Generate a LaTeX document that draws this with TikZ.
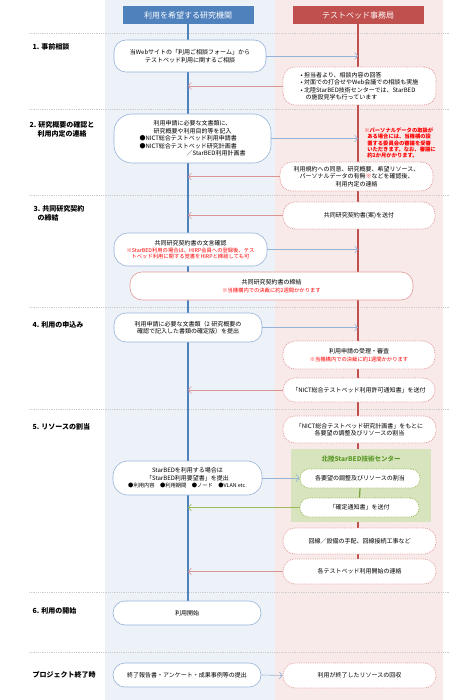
\documentclass[tikz,border=0pt]{standalone}
\usepackage{fontspec}
\setmainfont{Noto Sans CJK JP}
\usetikzlibrary{arrows.meta,backgrounds}
\definecolor{hdrblue}{HTML}{4F81BD}
\definecolor{hdrred}{HTML}{C0504D}
\definecolor{colblue}{HTML}{EDF2F9}
\definecolor{colpink}{HTML}{F9EAEA}
\definecolor{boxblue}{HTML}{95B3D7}
\definecolor{dotred}{HTML}{E39C9A}
\definecolor{arrred}{HTML}{D99694}
\definecolor{dotgreen}{HTML}{9BBB59}
\definecolor{linegreen}{HTML}{77A03C}
\definecolor{fillgreen}{HTML}{D7E4BD}
\definecolor{titlegreen}{HTML}{5E9B2C}
\definecolor{notered}{HTML}{FF0000}
\newcommand{\bodyfont}{\fontsize{6}{7.5}\selectfont}
\newcommand{\notefont}{\fontsize{5.3}{6.2}\selectfont}
\begin{document}
\begin{tikzpicture}[x=1pt,y=-1pt,>={Straight Barb[length=3pt,width=7pt]},
    hdr/.style={minimum width=131pt,minimum height=18pt,inner sep=0pt,text=white,font=\fontsize{8}{9}\selectfont},
    base/.style={fill=white,align=center,inner sep=1pt,font=\bodyfont},
    boxsize/.style 2 args={minimum width=#1pt,minimum height=#2pt},
    lbox/.style={base,draw=boxblue,line width=0.6pt,rounded corners=12pt},
    rbox/.style={base,draw=dotred,densely dotted,line width=0.8pt,rounded corners=12pt},
    gbox/.style={base,draw=dotgreen,densely dotted,line width=0.8pt,rounded corners=9pt},
    phase/.style={anchor=west,align=left,font=\fontsize{7}{9}\selectfont\bfseries},
    redtext/.style={text=notered,align=left,font=\notefont},
    barrow/.style={->,draw=boxblue,line width=0.6pt},
    rarrow/.style={->,draw=arrred,line width=0.6pt},
    garrow/.style={->,draw=dotgreen,line width=0.6pt},
    sepline/.style={draw=gray!40,densely dotted,line width=0.8pt}]
    \useasboundingbox (0,0) rectangle (450,700);
    \coordinate (bl) at (188,0);
    \coordinate (rl) at (358,0);
    % headers
    \node[hdr,fill=hdrblue] (hdrL) at (188,15) {利用を希望する研究機関};
    \node[hdr,fill=hdrred] (hdrR) at (358,15) {テストベッド事務局};
    % phases
    \node[phase] (p1) at (29,47) {1. 事前相談};
    \node[phase] (p2) at (26,129) {2. 研究概要の確認と\\\hspace*{8pt}利用内定の連絡};
    \node[phase] (p3) at (30,213.5) {3. 共同研究契約\\\hspace*{4pt}の締結};
    \node[phase] (p4) at (29,325) {4. 利用の申込み};
    \node[phase] (p5) at (29,427) {5. リソースの割当};
    \node[phase] (p6) at (29,611) {6. 利用の開始};
    \node[phase] (p7) at (29,675) {プロジェクト終了時};
    % 1
    \node[lbox,boxsize={152}{32}] (c1) at (190,56) {当Webサイトの「利用ご相談フォーム」から\\テストベッド利用に関するご相談};
    \node[rbox,boxsize={153}{38},align=left] (r1) at (359.5,86) {• 担当者より、相談内容の回答\\• 対面での打合せやWeb会議での相談も実施\\• 北陸StarBED技術センターでは、StarBED\\\hspace*{5pt}の施設見学も行っています};
    % 2
    \node[lbox,boxsize={157}{49},rounded corners=18pt] (c2) at (192.5,138.5) {利用申請に必要な文書類に、\\研究概要や利用目的等を記入\\\makebox[106pt][l]{●NICT総合テストベッド利用申請書}\\\makebox[106pt][l]{●NICT総合テストベッド研究計画書}\\\makebox[106pt][r]{／StarBED利用計画書}};
    \node[redtext,font=\notefont\bfseries] (n2) at (400,143) {※パーソナルデータの取扱が\\\hspace*{3pt}ある場合には、当機構の設\\\hspace*{3pt}置する委員会の審議を受審\\\hspace*{3pt}いただきます。なお、審議に\\\hspace*{3pt}約2か月かかります。};
    \node[rbox,boxsize={153}{29}] (r2) at (356.5,176.5) {利用規約への同意、研究概要、希望リソース、\\パーソナルデータの有無{\color{notered}※}などを確認後、\\利用内定の連絡};
    % 3
    \node[rbox,boxsize={152}{27}] (r3) at (359,215.5) {共同研究契約書(案)を送付};
    \node[lbox,boxsize={153}{33},rounded corners=14pt] (c3) at (190.5,249.5) {共同研究契約書の文言確認\\{\notefont\color{notered}※StarBED利用の場合は、HIRP会員への登録後、テス}\\[-1.5pt]{\notefont\color{notered}トベッド利用に関する覚書をHIRPと締結しても可}};
    \node[base,draw=dotred,line width=0.6pt,rounded corners=12pt,boxsize={283}{28}] (w3) at (271.5,286) {共同研究契約書の締結\\{\notefont\color{notered}※当機構内での決裁に約2週間かかります}};
    % 4
    \node[lbox,boxsize={148}{29}] (c4) at (188,327.5) {利用申請に必要な文書類（2 研究概要の\\確認で記入した書類の確定版）を提出};
    \node[rbox,boxsize={152}{28}] (r4a) at (359,355) {利用申請の受理・審査\\{\notefont\color{notered}※当機構内での決裁に約1週間かかります}};
    \node[rbox,boxsize={152}{24}] (r4b) at (359,390) {「NICT総合テストベッド利用許可通知書」を送付};
    % 5
    \node[rbox,boxsize={153}{27}] (r5a) at (359.5,429.5) {「NICT総合テストベッド研究計画書」をもとに\\各要望の調整及びリソースの割当};
    \node[fill=fillgreen,boxsize={140}{73}] (ctr) at (361,485.5) {};
    \node[text=titlegreen,font=\fontsize{6.5}{8}\selectfont\bfseries] (ctrtitle) at (361,459) {北陸StarBED技術センター};
    \node[gbox,boxsize={120}{19}] (g1) at (360,478.5) {各要望の調整及びリソースの割当};
    \node[gbox,boxsize={119}{19}] (g2) at (359.5,507.5) {「確定通知書」を送付};
    \node[lbox,boxsize={149}{34},rounded corners=15pt] (c5) at (187.5,478) {StarBEDを利用する場合は\\「StarBED利用要望書」を提出\\{\notefont ●利用内容\quad●利用期間\quad●ノード\quad●VLAN etc.}};
    \node[rbox,boxsize={153}{26}] (r5b) at (359.5,541) {回線／設備の手配、回線接続工事など};
    \node[rbox,boxsize={153}{25}] (r5c) at (359.5,571.5) {各テストベッド利用開始の連絡};
    % 6 and end
    \node[lbox,boxsize={148}{24}] (c6) at (187,613) {利用開始};
    \node[lbox,boxsize={148}{24}] (c7) at (187,675) {終了報告書・アンケート・成果事例等の提出};
    \node[rbox,boxsize={153}{25}] (r7) at (359.5,675.5) {利用が終了したリソースの回収};
    \draw[linegreen,line width=1.2pt] (g1.south) -- (g2.north);
    % arrows
    \draw[barrow] (c1.east) -- (c1.east -| rl);
    \draw[rarrow] (r1.west) -- (r1.west -| bl);
    \draw[barrow] (c2.east) -- (c2.east -| rl);
    \draw[rarrow] (r2.west) -- (r2.west -| bl);
    \draw[rarrow] (r3.west) -- (r3.west -| bl);
    \draw[barrow] (c3.east) -- (c3.east -| rl);
    \draw[barrow] (c4.east) -- (c4.east -| rl);
    \draw[rarrow] (r4b.west) -- (r4b.west -| bl);
    \draw[barrow] (c5.east) -- (c5.east -| g1.west);
    \draw[garrow] (g2.west) -- (g2.west -| bl);
    \draw[rarrow] (r5c.west) -- (r5c.west -| bl);
    \draw[barrow] (c7.east) -- (r7.west);
    \begin{scope}[on background layer]
        \fill[colblue] (105,0) rectangle (275,700);
        \fill[colpink] (275,0) rectangle (443,700);
        \foreach \y in {33,109,195,307,409,592,652}
            \draw[sepline] (29,\y) -- (450,\y);
        \draw[hdrblue,line width=1.2pt] (hdrL.south) -- (hdrL.south |- c6.north);
        \draw[hdrred,line width=1.2pt] (hdrR.south) -- (hdrR.south |- r5c.north);
    \end{scope}
\end{tikzpicture}
\end{document}
